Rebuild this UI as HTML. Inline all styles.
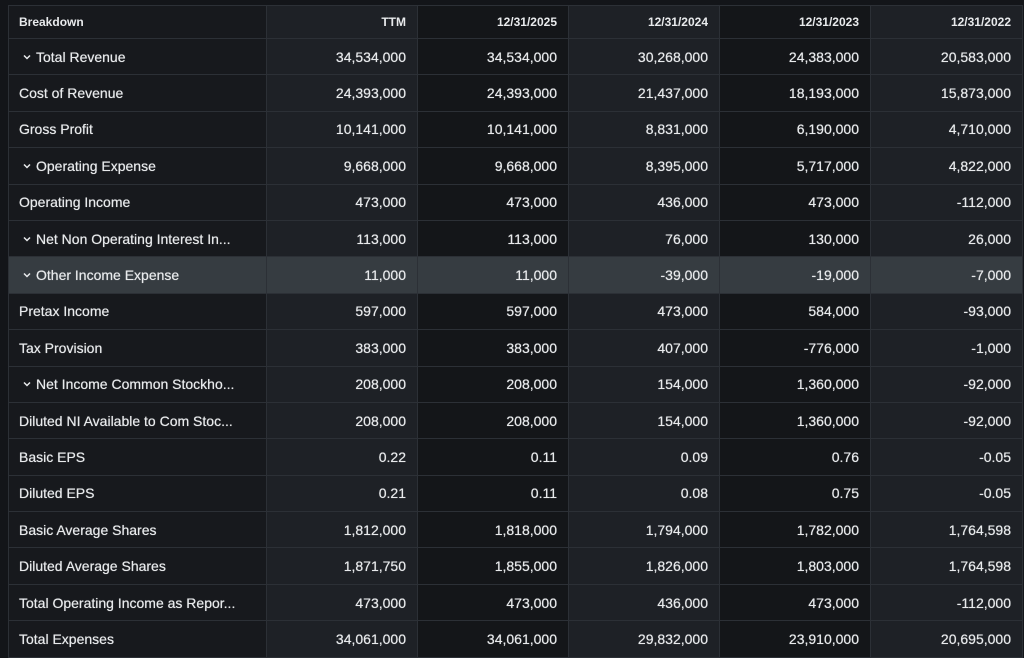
<!DOCTYPE html>
<html><head><meta charset="utf-8"><style>
html,body{margin:0;padding:0;background:#131519;width:1024px;height:655px;overflow:hidden}
table{position:absolute;left:8px;top:5px;border-collapse:collapse;font-family:"Liberation Sans",sans-serif;color:#e8eaec;font-size:14px;table-layout:fixed;width:1014px;text-shadow:0 0 0.6px #e8eaec}
td,th{border:1px solid #2c3036;padding:0 11px 0 10px;height:35.4px;text-align:right;white-space:nowrap;overflow:hidden}
th{height:32px;font-size:12px;font-weight:bold;text-shadow:none}
td:first-child,th:first-child{text-align:left;background:#17191d}
td:nth-child(2),th:nth-child(2),td:nth-child(4),th:nth-child(4),td:nth-child(6),th:nth-child(6){background:#1e2126}
td:nth-child(3),th:nth-child(3),td:nth-child(5),th:nth-child(5){background:#141619}
tr.hl td{background:#363c41 !important}
.c{display:inline-block;width:10px;height:8px;margin:0 4px 0 3px;vertical-align:1px}
</style></head><body>
<svg width="0" height="0" style="position:absolute"><defs><symbol id="ch" viewBox="0 0 10 8"><path d="M2 2.5 L5 5.5 L8 2.5" fill="none" stroke="#e8eaec" stroke-width="1.5"/></symbol></defs></svg>
<table>
<colgroup><col style="width:258px"><col style="width:151px"><col style="width:151px"><col style="width:151px"><col style="width:151px"><col style="width:152px"></colgroup>
<tr><th>Breakdown</th><th>TTM</th><th>12/31/2025</th><th>12/31/2024</th><th>12/31/2023</th><th>12/31/2022</th></tr>
<tr><td><svg class="c"><use href="#ch"/></svg>Total Revenue</td><td>34,534,000</td><td>34,534,000</td><td>30,268,000</td><td>24,383,000</td><td>20,583,000</td></tr>
<tr><td>Cost of Revenue</td><td>24,393,000</td><td>24,393,000</td><td>21,437,000</td><td>18,193,000</td><td>15,873,000</td></tr>
<tr><td>Gross Profit</td><td>10,141,000</td><td>10,141,000</td><td>8,831,000</td><td>6,190,000</td><td>4,710,000</td></tr>
<tr><td><svg class="c"><use href="#ch"/></svg>Operating Expense</td><td>9,668,000</td><td>9,668,000</td><td>8,395,000</td><td>5,717,000</td><td>4,822,000</td></tr>
<tr><td>Operating Income</td><td>473,000</td><td>473,000</td><td>436,000</td><td>473,000</td><td>-112,000</td></tr>
<tr><td><svg class="c"><use href="#ch"/></svg>Net Non Operating Interest In...</td><td>113,000</td><td>113,000</td><td>76,000</td><td>130,000</td><td>26,000</td></tr>
<tr class="hl"><td><svg class="c"><use href="#ch"/></svg>Other Income Expense</td><td>11,000</td><td>11,000</td><td>-39,000</td><td>-19,000</td><td>-7,000</td></tr>
<tr><td>Pretax Income</td><td>597,000</td><td>597,000</td><td>473,000</td><td>584,000</td><td>-93,000</td></tr>
<tr><td>Tax Provision</td><td>383,000</td><td>383,000</td><td>407,000</td><td>-776,000</td><td>-1,000</td></tr>
<tr><td><svg class="c"><use href="#ch"/></svg>Net Income Common Stockho...</td><td>208,000</td><td>208,000</td><td>154,000</td><td>1,360,000</td><td>-92,000</td></tr>
<tr><td>Diluted NI Available to Com Stoc...</td><td>208,000</td><td>208,000</td><td>154,000</td><td>1,360,000</td><td>-92,000</td></tr>
<tr><td>Basic EPS</td><td>0.22</td><td>0.11</td><td>0.09</td><td>0.76</td><td>-0.05</td></tr>
<tr><td>Diluted EPS</td><td>0.21</td><td>0.11</td><td>0.08</td><td>0.75</td><td>-0.05</td></tr>
<tr><td>Basic Average Shares</td><td>1,812,000</td><td>1,818,000</td><td>1,794,000</td><td>1,782,000</td><td>1,764,598</td></tr>
<tr><td>Diluted Average Shares</td><td>1,871,750</td><td>1,855,000</td><td>1,826,000</td><td>1,803,000</td><td>1,764,598</td></tr>
<tr><td>Total Operating Income as Repor...</td><td>473,000</td><td>473,000</td><td>436,000</td><td>473,000</td><td>-112,000</td></tr>
<tr><td>Total Expenses</td><td>34,061,000</td><td>34,061,000</td><td>29,832,000</td><td>23,910,000</td><td>20,695,000</td></tr>
</table>
</body></html>
